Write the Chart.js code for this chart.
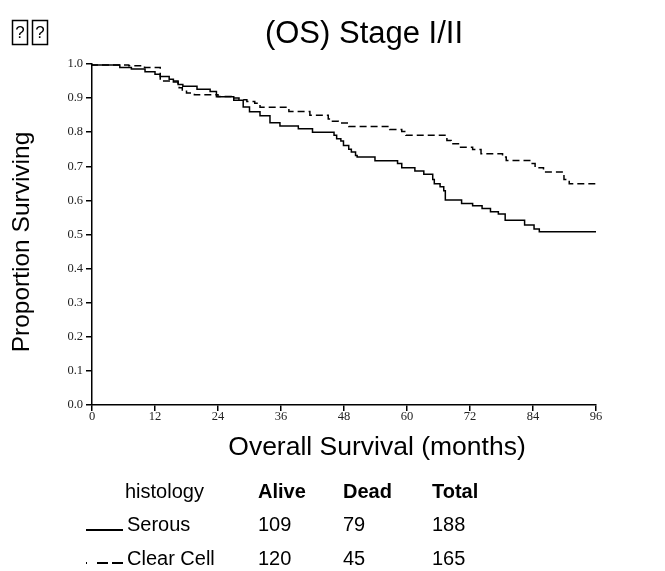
<!DOCTYPE html>
<html><head><meta charset="utf-8">
<script src="https://cdn.jsdelivr.net/npm/chart.js@4.4.1/dist/chart.umd.min.js"></script>
<style>
html,body{margin:0;padding:0;background:#fff;}
#wrap{position:relative;width:665px;height:571px;overflow:hidden;background:#fff;}
canvas{position:absolute;left:0;top:0;}
.t{position:absolute;font-family:"Liberation Sans",Arial,sans-serif;font-size:20px;line-height:24px;color:#000;white-space:nowrap;}
.b{font-weight:bold;}
svg{position:absolute;left:0;top:0;}
</style></head><body>
<div id="wrap">
<canvas id="c" width="665" height="571"></canvas>
<div id="tbl"></div>
</div>
<script>
// ---- data ----
const serousTime = [0,5.3,7.5,10.1,12,13,14.7,15.5,16.4,17.3,20,22.5,23.7,27,28.8,30,32,33.9,35.8,39.3,42,46.1,46.6,47.4,47.9,48.9,49.4,50.2,50.5,53.9,58.2,59.0,61.5,63.2,64.9,65.2,66.3,67.0,67.3,70.4,72.5,74.3,75.9,77.4,78.7,82.4,84.2,85.2,91.2,96];
const serousSurv = [1,0.997,0.99,0.985,0.977,0.97,0.963,0.955,0.947,0.94,0.935,0.926,0.919,0.904,0.894,0.874,0.86,0.848,0.828,0.818,0.81,0.8,0.791,0.781,0.774,0.761,0.75,0.742,0.732,0.727,0.716,0.708,0.696,0.686,0.677,0.661,0.649,0.64,0.628,0.601,0.591,0.584,0.576,0.567,0.56,0.542,0.528,0.516,0.508,0.508];
const clearTime = [0,7,10,13,16.4,16.6,17.2,18,19.5,24,26.5,28,29.5,31,32,37.5,41.5,45,45.6,46.9,48.9,56.7,59.0,59.8,67.6,68.4,70.2,72.5,74.1,78.2,78.9,83.7,84.4,86.0,89.9,90.9,93.5,96];
const clearSurv = [1,0.997,0.995,0.99,0.95,0.94,0.93,0.92,0.915,0.91,0.905,0.9,0.895,0.89,0.885,0.873,0.861,0.85,0.839,0.832,0.827,0.817,0.808,0.802,0.791,0.776,0.766,0.756,0.749,0.737,0.727,0.717,0.708,0.696,0.683,0.661,0.649,0.649];
const xTicks = [0,12,24,36,48,60,72,84,96];
const yTicks = [0,0.1,0.2,0.3,0.4,0.5,0.6,0.7,0.8,0.9,1.0];
const groups = ['Serous','Clear Cell'];
const alive = [109,120];
const dead = [79,45];
const total = [188,165];
const headers = ['histology','Alive','Dead','Total'];

// ---- table under the chart ----
(function(){
  const tbl = document.getElementById('tbl');
  const colX = [125,258,343,432];
  const rowTop = [479,512,546];
  function add(txt,x,y,bold){const d=document.createElement('div');d.className='t'+(bold?' b':'');d.style.left=x+'px';d.style.top=y+'px';d.textContent=txt;tbl.appendChild(d);}
  headers.forEach((h,i)=>add(h,colX[i],rowTop[0],i>0));
  groups.forEach((g,r)=>{
    add(g,colX[0]+2,rowTop[r+1]);
    add(String(alive[r]),colX[1],rowTop[r+1]);
    add(String(dead[r]),colX[2],rowTop[r+1]);
    add(String(total[r]),colX[3],rowTop[r+1]);
  });
  const ns='http://www.w3.org/2000/svg';
  const svg=document.createElementNS(ns,'svg');svg.setAttribute('width','665');svg.setAttribute('height','571');
  function line(x1,x2,y,dash){const l=document.createElementNS(ns,'line');l.setAttribute('x1',x1);l.setAttribute('x2',x2);l.setAttribute('y1',y);l.setAttribute('y2',y);l.setAttribute('stroke','#000');l.setAttribute('stroke-width','2');if(dash)l.setAttribute('stroke-dasharray',dash);svg.appendChild(l);}
  line(86,123,530,null);
  line(86,123,563,'1 10 11 4 11');
  tbl.appendChild(svg);
})();

// ---- free text drawn on the canvas ----
const textPlugin = {
  id:'texts',
  afterDraw(chart){
    const c = chart.ctx;
    c.save();
    c.fillStyle='#000';
    c.textAlign='center'; c.textBaseline='middle';
    c.font = '31px "Liberation Sans", Arial, sans-serif';
    c.fillText('(OS) Stage I/II', 364, 34);
    c.font = '26.5px "Liberation Sans", Arial, sans-serif';
    c.fillText('Overall Survival (months)', 377, 448);
    c.save();
    c.translate(22, 242); c.rotate(-Math.PI/2);
    c.font = '24.5px "Liberation Sans", Arial, sans-serif';
    c.fillText('Proportion Surviving', 0, 0);
    c.restore();
    // missing-glyph boxes at top-left
    c.strokeStyle='#000'; c.lineWidth=1.5;
    c.font='17px "Liberation Sans", Arial, sans-serif';
    [[12,20],[32,20]].forEach(([x,y])=>{c.strokeRect(x+0.5,y+0.5,15,24);c.fillText('?',x+8,y+13);});
    c.restore();
  }
};

const mk = (t,s)=>t.map((v,i)=>({x:v,y:s[i]}));
const tickFont = {family:'"Liberation Serif", "Times New Roman", serif',size:12.5};
new Chart(document.getElementById('c'),{
  type:'line',
  data:{datasets:[
    {label:groups[0],data:mk(serousTime,serousSurv),stepped:'after',borderColor:'#000',borderWidth:1.5,pointRadius:0,fill:false},
    {label:groups[1],data:mk(clearTime,clearSurv),stepped:'after',borderColor:'#000',borderWidth:1.5,borderDash:[7,4],pointRadius:0,fill:false}
  ]},
  options:{
    responsive:false,animation:false,
    layout:{padding:{left:0,right:69,top:64,bottom:0}},
    plugins:{legend:{display:false},tooltip:{enabled:false},title:{display:false}},
    scales:{
      x:{type:'linear',min:0,max:96,
        afterBuildTicks:s=>{s.ticks=xTicks.map(v=>({value:v}));},
        ticks:{font:tickFont,color:'#222',padding:-2,maxRotation:0,autoSkip:false},
        grid:{drawOnChartArea:false,drawTicks:true,tickLength:6,color:'#000',lineWidth:1.5},
        border:{color:'#000',width:1.5},
        afterFit:s=>{s.height=166;}},
      y:{type:'linear',min:0,max:1,
        afterBuildTicks:s=>{s.ticks=yTicks.map(v=>({value:v}));},
        ticks:{font:tickFont,color:'#222',padding:3,callback:v=>Number(v).toFixed(1),autoSkip:false},
        grid:{drawOnChartArea:false,drawTicks:true,tickLength:6,color:'#000',lineWidth:1.5},
        border:{color:'#000',width:1.5},
        afterFit:s=>{s.width=92;}}
    }
  },
  plugins:[textPlugin]
});
</script>
</body></html>
